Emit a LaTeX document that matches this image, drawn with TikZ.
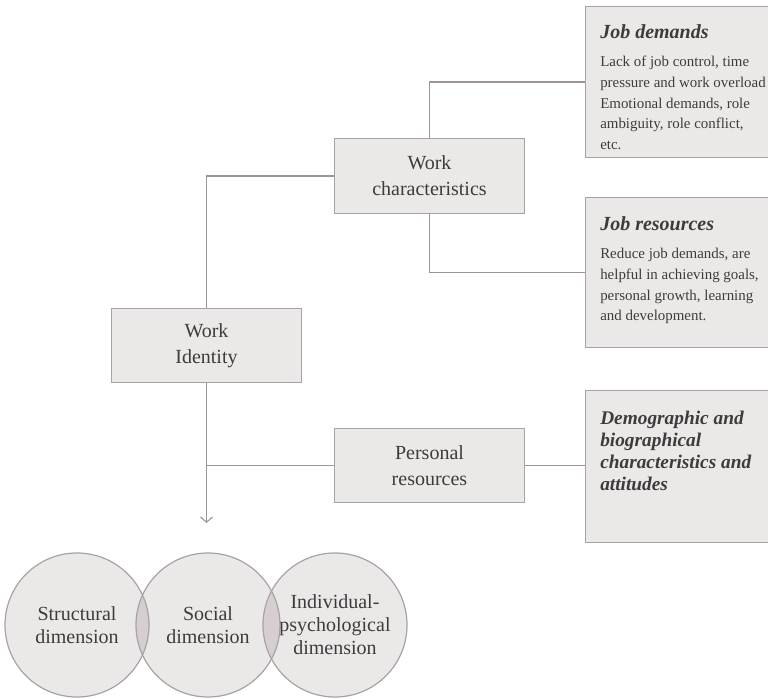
\documentclass[tikz,border=0pt]{standalone}
\usepackage{fontspec}
\setmainfont{Liberation Serif}
\usetikzlibrary{positioning}
\usetikzlibrary{arrows.meta}
\definecolor{boxfill}{HTML}{EBE9E8}
\definecolor{boxline}{HTML}{A9A1A5}
\definecolor{linkcol}{HTML}{9D9398}
\definecolor{txt}{HTML}{3F3B3D}
\definecolor{overlapfill}{HTML}{D5CFD2}
\newcommand{\sidetitlefont}{\fontsize{15}{18}\selectfont\bfseries\itshape}

\begin{document}
\begin{tikzpicture}[x=0.75pt,y=-0.75pt,
    mainbox/.style={draw=boxline, line width=0.9pt, fill=boxfill, minimum width=142pt, minimum height=56pt, align=center, text=txt, font=\fontsize{15}{19.5}\selectfont},
    sidebox/.style={draw=boxline, line width=0.9pt, fill=boxfill, minimum width=140pt, anchor=north west, inner sep=0pt},
    sidetext/.style={anchor=north west, align=left, text=txt, inner sep=0pt, font=\fontsize{11.2}{15.5}\selectfont},
    link/.style={draw=linkcol, line width=1.1pt},
    dimension/.style={circle, draw=boxline, line width=0.9pt, minimum size=108pt, align=center, text=txt, font=\fontsize{15}{17.3}\selectfont}]

    \useasboundingbox (0,0) rectangle (768,699);

    % Middle column
    \node[mainbox] (wc) at (429.5,176) {Work\\characteristics};
    \node[mainbox] (wi) at (206.5,345.5) {Work\\Identity};
    \node[mainbox] (pr) at (429.5,465.5) {Personal\\resources};

    % Right column
    \node[sidebox, minimum height=113.25pt] (jd) at (585,6) {};
    \node[sidetext] (jdtext) at (600,24) {{\sidetitlefont Job demands}\\[6pt]
        Lack of job control, time\\pressure and work overload\\Emotional demands, role\\ambiguity, role conflict,\\etc.};
    \node[sidebox, minimum height=112.5pt] (jr) at (585,197) {};
    \node[sidetext] (jrtext) at (600,216) {{\sidetitlefont Job resources}\\[6pt]
        Reduce job demands, are\\helpful in achieving goals,\\personal growth, learning\\and development.};
    \node[sidebox, minimum height=114pt] (dm) at (585,390) {};
    \node[sidetext, font=\fontsize{14.5}{16.4}\selectfont\bfseries\itshape] (dmtext) at (600,411)
        {Demographic and\\biographical\\characteristics and\\attitudes};

    % Connectors
    \coordinate (tip) at (206.5,523);
    \draw[link] (wi.north) |- (wc.west);
    \draw[link] (wc.north) |- (jd.west);
    \draw[link] (wc.south) |- (jr.west);
    \draw[link, -{Straight Barb[length=4pt,width=9pt,line width=0.8pt]}] (wi.south) -- (tip);
    \draw[link] (wi.south |- pr.west) -- (pr.west);
    \draw[link] (pr.east) -- (pr.east -| dm.west);

    % Dimensions
    \foreach \cx in {77,208,335}
        \fill[boxfill] (\cx,625) circle (54pt);
    \begin{scope}
        \clip (77,625) circle (54pt);
        \fill[overlapfill] (208,625) circle (54pt);
    \end{scope}
    \begin{scope}
        \clip (208,625) circle (54pt);
        \fill[overlapfill] (335,625) circle (54pt);
    \end{scope}
    \node[dimension] (st) at (77,625) {Structural\\dimension};
    \node[dimension] (so) at (208,625) {Social\\dimension};
    \node[dimension] (ip) at (335,625) {Individual-\\psychological\\dimension};
\end{tikzpicture}
\end{document}
